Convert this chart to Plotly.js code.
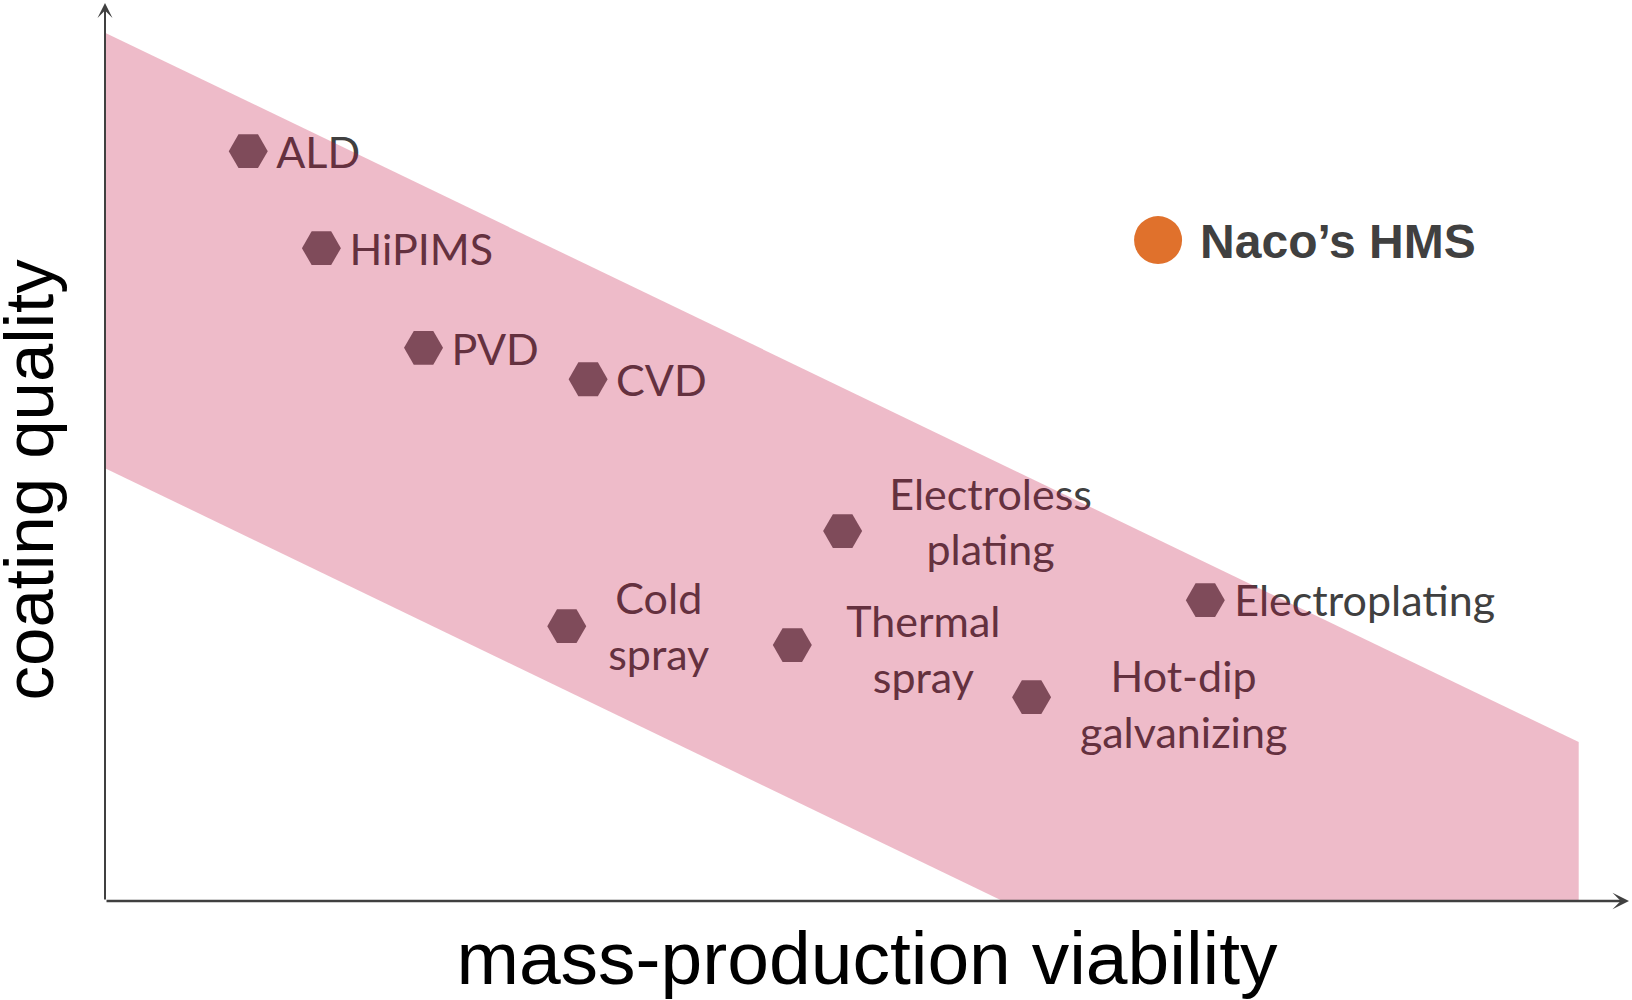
<!DOCTYPE html>
<html><head><meta charset="utf-8">
<script src="https://cdn.plot.ly/plotly-3.0.1.min.js"></script>
<style>html,body{margin:0;padding:0;background:#fff;}#chart{width:1632px;height:1000px;}</style>
</head><body><div id="chart"></div>
<script>
// ---- data ----
const methods = ['ALD','HiPIMS','PVD','CVD','Electroless plating','Cold spray','Thermal spray','Hot-dip galvanizing','Electroplating'];
const methodLabels = ['ALD','HiPIMS','PVD','CVD','Electroless<br>plating','Cold<br>spray','Thermal<br>spray','Hot-dip<br>galvanizing','Electroplating'];
const viability = [0.94, 1.42, 2.09, 3.17, 4.84, 3.03, 4.51, 6.08, 7.22];
const quality   = [8.35, 7.27, 6.16, 5.81, 4.12, 3.06, 2.85, 2.27, 3.35];
const highlightName = ['Naco’s HMS'];
const highlightViability = [6.91];
const highlightQuality = [7.36];
const bandViability = [0, 9.67, 9.67, 5.89, 0];
const bandQuality   = [9.67, 1.77, 0, 0, 4.82];
const xAxisTitle = 'mass-production viability';
const yAxisTitle = 'coating quality';

// ---- layout / style ----
const W = 1632, H = 1000, M = {l:105, r:3, t:3, b:99};
const X_RANGE = [0, 10], Y_RANGE = [0, 10];
const pxX = (W - M.l - M.r) / (X_RANGE[1] - X_RANGE[0]);
const pxY = (H - M.t - M.b) / (Y_RANGE[1] - Y_RANGE[0]);
const LABEL_SIZE = 43, HL_SIZE = 48;
const labelDx = [28, 28, 28, 28, 148, 92, 131, 152, 29];   // px: text start / block centre
const labelDy = [17, 17, 17, 17, 6.5, 16, 20, 23, 16];      // px: baseline (mid) below marker
const labelX = viability.map((v, i) => v + labelDx[i] / pxX);
const labelY = quality.map((q, i) => q - (labelDy[i] - 0.25 * LABEL_SIZE) / pxY);
const labelPos = methodLabels.map(t => t.includes('<br>') ? 'middle center' : 'middle right');
const hlLabelX = highlightViability.map(v => v + 42 / pxX);
const hlLabelY = highlightQuality.map(q => q - (18 - 0.25 * HL_SIZE) / pxY);

const AXIS_COLOR = '#404040';
const sans = 'Liberation Sans, Arial, sans-serif';

const traces = [
  { type:'scatter', mode:'text', x:labelX, y:labelY, text:methodLabels, textposition:labelPos,
    textfont:{family:'Lato, Open Sans, sans-serif', size:LABEL_SIZE, color:'#404040'},
    hoverinfo:'skip', showlegend:false, cliponaxis:false },
  { type:'scatter', mode:'lines', x:bandViability, y:bandQuality, fill:'toself',
    fillcolor:'rgba(194,9,62,0.28)', line:{width:0}, hoverinfo:'skip', showlegend:false },
  { type:'scatter', mode:'markers', x:viability, y:quality, text:methods, name:'methods',
    marker:{symbol:'hexagon2', size:39, color:'#7f4b5a', line:{width:0}}, showlegend:false, cliponaxis:false },
  { type:'scatter', mode:'markers', x:highlightViability, y:highlightQuality, text:highlightName,
    marker:{symbol:'circle', size:HL_SIZE, color:'#E0712C', line:{width:0}}, showlegend:false, cliponaxis:false },
  { type:'scatter', mode:'text', x:hlLabelX, y:hlLabelY, text:highlightName, textposition:'middle right',
    textfont:{family:sans, size:HL_SIZE, color:'#404040', weight:700},
    hoverinfo:'skip', showlegend:false, cliponaxis:false }
];

const layout = {
  width:W, height:H, margin:M, paper_bgcolor:'#fff', plot_bgcolor:'rgba(0,0,0,0)',
  xaxis:{range:X_RANGE, showgrid:false, zeroline:false, showline:false, showticklabels:false, ticks:'', fixedrange:true,
    title:{text:xAxisTitle, standoff:33, font:{family:sans, size:75, color:'#000'}}},
  yaxis:{range:Y_RANGE, showgrid:false, zeroline:false, showline:false, showticklabels:false, ticks:'', fixedrange:true},
  annotations:[
    { x:X_RANGE[0], y:Y_RANGE[1], ax:X_RANGE[0], ay:Y_RANGE[0], xref:'x', yref:'y', axref:'x', ayref:'y',
      text:'', showarrow:true, arrowhead:3, arrowsize:1.25, arrowwidth:2, arrowcolor:AXIS_COLOR, standoff:0 },
    { x:X_RANGE[1], y:Y_RANGE[0], ax:X_RANGE[0], ay:Y_RANGE[0], xref:'x', yref:'y', axref:'x', ayref:'y',
      text:'', showarrow:true, arrowhead:3, arrowsize:1.1, arrowwidth:2.5, arrowcolor:AXIS_COLOR, standoff:0 },
    { x:0, y:0.4694, xref:'paper', yref:'paper', xanchor:'center', yanchor:'middle', xshift:-76,
      text:yAxisTitle, textangle:-90, showarrow:false, font:{family:sans, size:69, color:'#000'} }
  ]
};

Plotly.newPlot('chart', traces, layout, {displayModeBar:false, staticPlot:true});
</script>
</body></html>
